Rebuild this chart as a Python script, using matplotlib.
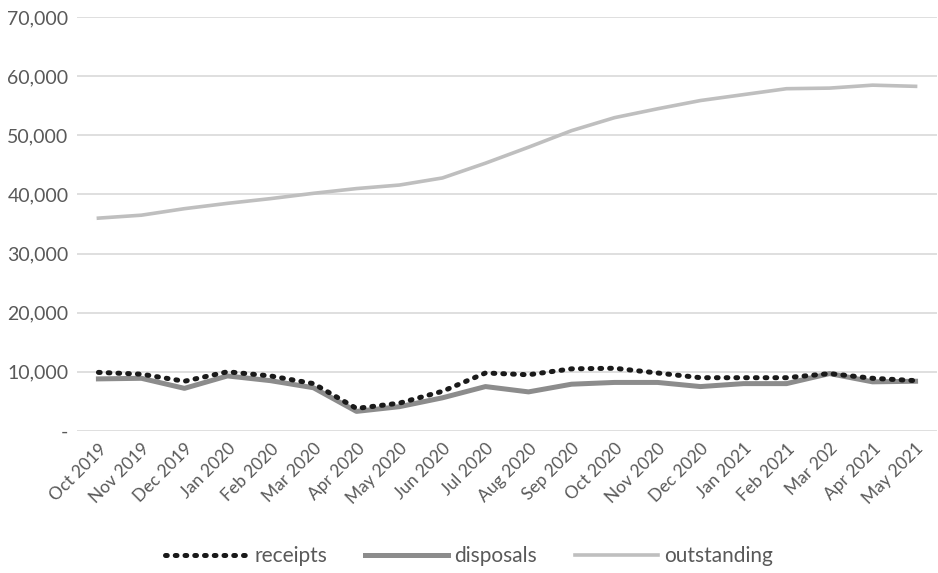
import matplotlib
matplotlib.use("Agg")
import matplotlib.pyplot as plt
from matplotlib.ticker import FuncFormatter

months = ["Oct 2019", "Nov 2019", "Dec 2019", "Jan 2020", "Feb 2020", "Mar 2020",
          "Apr 2020", "May 2020", "Jun 2020", "Jul 2020", "Aug 2020", "Sep 2020",
          "Oct 2020", "Nov 2020", "Dec 2020", "Jan 2021", "Feb 2021", "Mar 202",
          "Apr 2021", "May 2021"]
receipts = [9900, 9600, 8400, 10000, 9300, 8000, 3800, 4700, 6700, 9800,
            9500, 10500, 10600, 9800, 9000, 9000, 9000, 9700, 8900, 8500]
disposals = [8800, 8900, 7200, 9300, 8500, 7300, 3300, 4100, 5600, 7500,
             6600, 7900, 8200, 8200, 7500, 8000, 8000, 9700, 8300, 8400]
outstanding = [36000, 36500, 37600, 38500, 39300, 40200, 41000, 41600, 42800, 45300,
               48000, 50800, 53000, 54500, 55900, 56900, 57900, 58000, 58500, 58300]

plt.rcParams['font.family'] = ['Lato', 'DejaVu Sans']
txt = '#595959'

fig = plt.figure(figsize=(9.38, 5.73), dpi=100)
ax = fig.add_axes([0.082, 0.248, 0.917, 0.722])
x = list(range(len(months)))

ax.plot(x, outstanding, color='#bfbfbf', lw=2.6, label='outstanding', zorder=3)
ax.plot(x, disposals, color='#8c8c8c', lw=3.6, label='disposals', zorder=3)
ax.plot(x, receipts, color='#1a1a1a', lw=3.6, linestyle=(0, (0.35, 1.6)),
        dash_capstyle='round', label='receipts', zorder=4)

ax.set_xlim(-0.5, len(months) - 0.5)
ax.set_ylim(0, 70000)
ax.set_yticks(range(0, 70001, 10000))
ax.yaxis.set_major_formatter(FuncFormatter(lambda v, p: '-' if v == 0 else f'{int(v):,}'))
ax.set_xticks(x)
ax.set_xticklabels(months, rotation=45, ha='right', rotation_mode='anchor')
ax.tick_params(axis='both', length=0, colors=txt)
ax.tick_params(axis='y', pad=6, labelsize=14)
ax.tick_params(axis='x', pad=7, labelsize=12.5)
ax.grid(axis='y', color='#d9d9d9', lw=1.2)
ax.set_axisbelow(True)
for s in ax.spines.values():
    s.set_visible(False)

h, l = ax.get_legend_handles_labels()
order = [2, 1, 0]
leg = fig.legend([h[i] for i in order], [l[i] for i in order], loc='center',
                 bbox_to_anchor=(0.5, 0.03), ncol=3, frameon=False, fontsize=15,
                 handlelength=4.0, columnspacing=1.8, handletextpad=0.3)
for t in leg.get_texts():
    t.set_color(txt)

fig.savefig('out.png', dpi=100)
